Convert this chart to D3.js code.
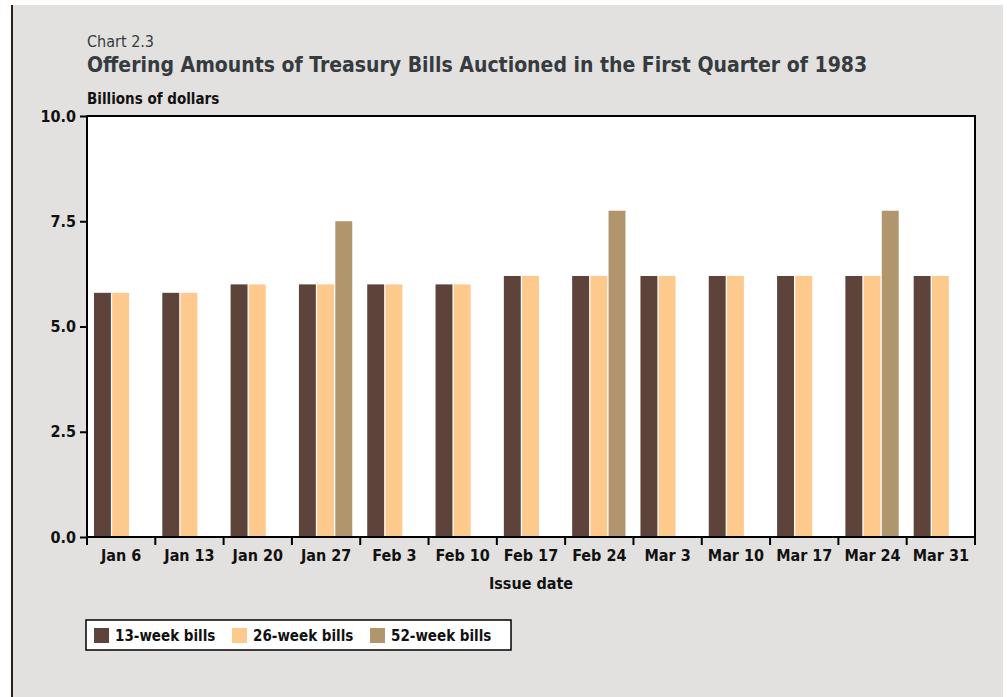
<!DOCTYPE html>
<html>
<head>
<meta charset="utf-8">
<script src="https://cdn.jsdelivr.net/npm/d3@7"></script>
<style>
  html, body { margin: 0; padding: 0; background: #fff; }
  svg { display: block; }
  text { font-stretch: condensed; }
</style>
</head>
<body>
<div id="chart"></div>
<script>
// ── data ──────────────────────────────────────────────────────────────────
const issueDates = ['Jan 6', 'Jan 13', 'Jan 20', 'Jan 27', 'Feb 3', 'Feb 10', 'Feb 17',
  'Feb 24', 'Mar 3', 'Mar 10', 'Mar 17', 'Mar 24', 'Mar 31'];
const week13 = [5.8, 5.8, 6.0, 6.0, 6.0, 6.0, 6.2, 6.2, 6.2, 6.2, 6.2, 6.2, 6.2];
const week26 = [5.8, 5.8, 6.0, 6.0, 6.0, 6.0, 6.2, 6.2, 6.2, 6.2, 6.2, 6.2, 6.2];
const week52 = [null, null, null, 7.5, null, null, null, 7.75, null, null, null, 7.75, null];
const yTicks = [0, 2.5, 5, 7.5, 10];

const seriesNames = ['13-week bills', '26-week bills', '52-week bills'];
const seriesColors = ['#5e433b', '#fec98d', '#b0956d'];
const seriesValues = [week13, week26, week52];

const W = 1007, H = 697;
const FONT = '"DejaVu Sans Condensed", "DejaVu Sans", sans-serif';
const margin = { left: 87, right: 32, top: 116, bottom: 160 };
const plotW = W - margin.left - margin.right;
const plotH = H - margin.top - margin.bottom;

const svg = d3.select('#chart').append('svg').attr('width', W).attr('height', H);

// ── page background ───────────────────────────────────────────────────────
svg.append('rect').attr('x', 12).attr('y', 5).attr('width', W - 16).attr('height', H - 5).attr('fill', '#e2e1df');
svg.append('line').attr('x1', 12).attr('x2', 12).attr('y1', 5).attr('y2', H)
  .attr('stroke', '#2e211c').attr('stroke-width', 2);

// ── titles ────────────────────────────────────────────────────────────────
svg.append('text').attr('x', 87).attr('y', 47).attr('font-family', FONT).attr('font-size', '16px')
  .attr('fill', '#363b40').text('Chart 2.3');
svg.append('text').attr('x', 87).attr('y', 72).attr('font-family', FONT).attr('font-size', '21px')
  .attr('font-weight', 'bold').attr('fill', '#363b40')
  .text('Offering Amounts of Treasury Bills Auctioned in the First Quarter of 1983');
svg.append('text').attr('x', 87).attr('y', 104).attr('font-family', FONT).attr('font-size', '15px')
  .attr('font-weight', 'bold').attr('fill', '#111').text('Billions of dollars');

// ── scales ────────────────────────────────────────────────────────────────
const x = d3.scaleBand().domain(issueDates).range([0, plotW]).paddingInner(0).paddingOuter(0);
const xSub = d3.scaleBand().domain(d3.range(3)).range([7, x.bandwidth() - 8]).paddingInner(0.07);
const y = d3.scaleLinear().domain([0, 10]).range([plotH, 0]);

const g = svg.append('g').attr('transform', `translate(${margin.left},${margin.top})`);

g.append('rect').attr('width', plotW).attr('height', plotH).attr('fill', '#fff');

// ── bars ──────────────────────────────────────────────────────────────────
seriesValues.forEach((vals, s) => {
  g.append('g').selectAll('rect')
    .data(issueDates.map((d, i) => ({ d, v: vals[i] })).filter((e) => e.v != null))
    .join('rect')
    .attr('x', (e) => x(e.d) + xSub(s))
    .attr('width', xSub.bandwidth())
    .attr('y', (e) => y(e.v))
    .attr('height', (e) => plotH - y(e.v))
    .attr('fill', seriesColors[s]);
});

// ── frame ─────────────────────────────────────────────────────────────────
g.append('rect').attr('width', plotW).attr('height', plotH).attr('fill', 'none')
  .attr('stroke', '#000').attr('stroke-width', 2);

// ── y axis ────────────────────────────────────────────────────────────────
const yAxis = g.append('g').call(d3.axisLeft(y).tickValues(yTicks).tickSize(7).tickPadding(4)
  .tickFormat(d3.format('.1f')));
yAxis.select('.domain').remove();
yAxis.selectAll('line').attr('stroke', '#000').attr('stroke-width', 2);
yAxis.selectAll('text').attr('font-family', FONT).attr('font-size', '16px')
  .attr('font-weight', 'bold').attr('fill', '#111');

// ── x axis ────────────────────────────────────────────────────────────────
const xAxis = g.append('g').attr('transform', `translate(0,${plotH})`);
xAxis.selectAll('line.tick')
  .data(issueDates.map((d) => x(d)).concat([plotW]))
  .join('line').attr('class', 'tick')
  .attr('x1', (d) => d).attr('x2', (d) => d).attr('y1', 0).attr('y2', 8)
  .attr('stroke', '#000').attr('stroke-width', 2);
xAxis.selectAll('text')
  .data(issueDates)
  .join('text')
  .attr('x', (d) => x(d) + x.bandwidth() / 2)
  .attr('y', 24)
  .attr('text-anchor', 'middle')
  .attr('font-family', FONT).attr('font-size', '16px').attr('font-weight', 'bold').attr('fill', '#111')
  .text((d) => d);

g.append('text').attr('x', plotW / 2).attr('y', plotH + 52).attr('text-anchor', 'middle')
  .attr('font-family', FONT).attr('font-size', '16px').attr('font-weight', 'bold').attr('fill', '#111')
  .text('Issue date');

// ── legend ────────────────────────────────────────────────────────────────
const legend = svg.append('g').attr('transform', 'translate(86,620)');
legend.append('rect').attr('width', 425).attr('height', 30).attr('fill', '#fff')
  .attr('stroke', '#000').attr('stroke-width', 1.5);
const legendX = [8, 146, 284];
seriesNames.forEach((name, i) => {
  legend.append('rect').attr('x', legendX[i]).attr('y', 8).attr('width', 15).attr('height', 15)
    .attr('fill', seriesColors[i]);
  legend.append('text').attr('x', legendX[i] + 21).attr('y', 21)
    .attr('font-family', FONT).attr('font-size', '15px').attr('font-weight', 'bold').attr('fill', '#111')
    .text(name);
});
</script>
</body>
</html>
